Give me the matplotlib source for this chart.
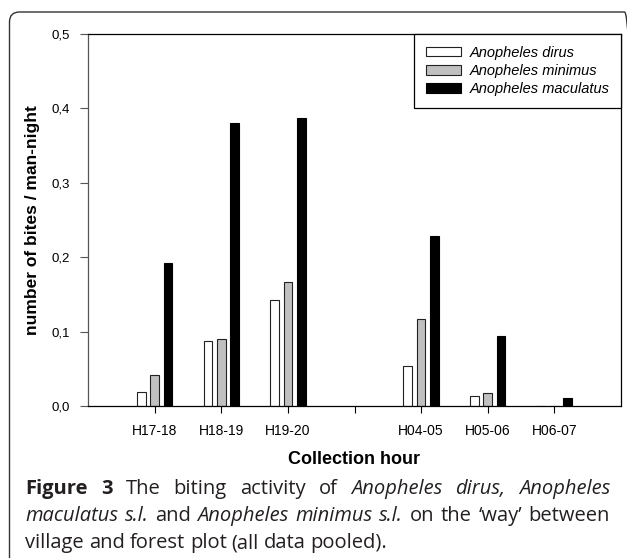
import numpy as np
import matplotlib
matplotlib.use("Agg")
import matplotlib.pyplot as plt
from matplotlib.patches import FancyBboxPatch
from matplotlib.transforms import IdentityTransform

# data (the 4th slot is an empty gap in the original)
hours = ['H17-18', 'H18-19', 'H19-20', '', 'H04-05', 'H05-06', 'H06-07']
dirus = [0.019, 0.088, 0.142, np.nan, 0.054, 0.014, 0]
minimus = [0.042, 0.090, 0.167, np.nan, 0.117, 0.018, 0]
maculatus = [0.192, 0.380, 0.387, np.nan, 0.228, 0.094, 0.011]
species = ['Anopheles dirus', 'Anopheles minimus', 'Anopheles maculatus']
yticks = [0.0, 0.1, 0.2, 0.3, 0.4, 0.5]

W, H = 627, 558
fig = plt.figure(figsize=(W / 100, H / 100), dpi=100)
ax = fig.add_axes([88 / W, 1 - 406 / H, (621 - 88) / W, (406 - 34) / H])

x = np.arange(1, len(hours) + 1)
bw = 0.13
ax.bar(x - 0.2, dirus, bw, color='white', edgecolor='#222222', linewidth=0.8, label=species[0])
ax.bar(x, minimus, bw, color='#c0c0c0', edgecolor='#222222', linewidth=0.8, label=species[1])
ax.bar(x + 0.2, maculatus, bw, color='black', edgecolor='black', linewidth=0.8, label=species[2])

ax.set_xlim(0, len(hours) + 1)
ax.set_ylim(0, 0.5)
ax.set_xticks(x)
ax.set_xticklabels(hours, fontsize=10, family='Liberation Sans')
ax.set_yticks(yticks)
ax.set_yticklabels([f"{v:.1f}".replace('.', ',') for v in yticks], fontsize=9.5, family='Liberation Sans')
ax.tick_params(axis='x', direction='out', length=5, width=0.8, pad=8)
ax.tick_params(axis='y', direction='out', length=6, width=0.8, pad=7, color='#555555')

for s in ['top', 'right', 'bottom']:
    ax.spines[s].set_linewidth(0.9)
    ax.spines[s].set_color('black')
ax.spines['left'].set_linewidth(0.9)
ax.spines['left'].set_color('#555555')

ax.set_xlabel('Collection hour', fontsize=13, fontweight='bold', family='Liberation Sans', labelpad=9)
ax.set_ylabel('number of bites / man-night', fontsize=12.5, fontweight='bold', family='Liberation Sans', labelpad=8)

leg = ax.legend(loc='upper right', bbox_to_anchor=(1, 1), borderaxespad=0,
                prop={'family': 'Liberation Sans', 'style': 'italic', 'size': 10.5},
                fancybox=False, edgecolor='black', framealpha=1,
                handlelength=2.4, handleheight=0.65, handletextpad=0.6,
                labelspacing=0.3, borderpad=0.8)
leg.get_frame().set_linewidth(0.9)

# rounded frame around the figure (only top and left visible)
frame = FancyBboxPatch((9.5, -30), 625, H - 12 + 30,
                       boxstyle="round,pad=0,rounding_size=10",
                       transform=IdentityTransform(), fill=False,
                       edgecolor='#333333', linewidth=1.0)
fig.add_artist(frame)

# caption, justified like the journal layout
cap_lines = [
    [('Figure', 'bold'), ('3', 'bold'), ('The', 'normal'), ('biting', 'normal'),
     ('activity', 'normal'), ('of', 'normal'), ('Anopheles', 'italic'),
     ('dirus,', 'italic'), ('Anopheles', 'italic')],
    [('maculatus', 'italic'), ('s.l.', 'italic'), ('and', 'normal'),
     ('Anopheles', 'italic'), ('minimus', 'italic'), ('s.l.', 'italic'),
     ('on', 'normal'), ('the', 'normal'), ('\u2018way\u2019', 'normal'),
     ('between', 'normal')],
    [('village', 'normal'), ('and', 'normal'), ('forest', 'normal'),
     ('plot', 'normal'), ('(all', 'normal'), ('data', 'normal'),
     ('pooled).', 'normal')],
]
baselines = [494, 521, 548]
x0, x1 = 25, 610
renderer = fig.canvas.get_renderer()
cap_size = 14.5
for i, words in enumerate(cap_lines):
    texts = []
    for w, st in words:
        t = fig.text(0, 1 - baselines[i] / H, w, fontsize=cap_size, family='Open Sans',
                     fontweight='bold' if st == 'bold' else 'normal',
                     style='italic' if st == 'italic' else 'normal',
                     color='#231f20', va='baseline', ha='left')
        texts.append(t)
    widths = [t.get_window_extent(renderer).width for t in texts]
    if i < len(cap_lines) - 1:
        gap = (x1 - x0 - sum(widths)) / (len(texts) - 1)
    else:
        gap = 5
    xpos = x0
    for t, w in zip(texts, widths):
        t.set_x(xpos / W)
        xpos += w + gap

fig.savefig('out.png', dpi=100)
